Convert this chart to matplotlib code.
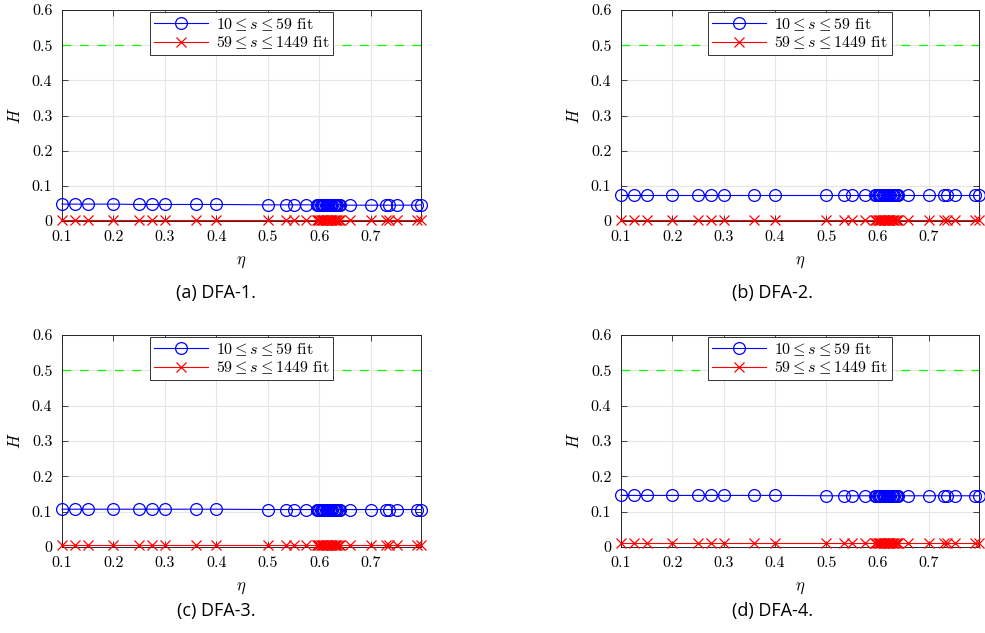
import matplotlib
matplotlib.use("Agg")
import matplotlib.pyplot as plt

plt.rcParams["font.family"] = "serif"
plt.rcParams["font.serif"] = ["cmr10", "DejaVu Serif"]
plt.rcParams["mathtext.fontset"] = "cm"
plt.rcParams["axes.unicode_minus"] = False

# ── data ──────────────────────────────────────────────────────────────────────
eta = [0.1, 0.125, 0.15, 0.2, 0.25, 0.275, 0.3, 0.36, 0.4,
       0.5, 0.535, 0.55, 0.575,
       0.595, 0.5975, 0.6, 0.6025, 0.605, 0.6075, 0.61, 0.6125, 0.615, 0.6175,
       0.62, 0.6225, 0.625, 0.6275, 0.63, 0.6325, 0.635, 0.6375, 0.64,
       0.66, 0.7, 0.73, 0.735, 0.75, 0.79, 0.7975]

# short-scale fit (10 <= s <= 59)
h_small = {
    "DFA-1": [0.048, 0.048, 0.048, 0.048, 0.047, 0.047, 0.047, 0.047, 0.047,
              0.046, 0.046, 0.046, 0.046,
              0.046, 0.046, 0.046, 0.046, 0.046, 0.046, 0.046, 0.046, 0.046, 0.046,
              0.046, 0.046, 0.046, 0.046, 0.046, 0.046, 0.046, 0.046, 0.046,
              0.045, 0.045, 0.045, 0.045, 0.045, 0.045, 0.046],
    "DFA-2": [0.074, 0.074, 0.074, 0.074, 0.074, 0.074, 0.074, 0.074, 0.074,
              0.074, 0.074, 0.074, 0.074,
              0.074, 0.074, 0.074, 0.074, 0.074, 0.074, 0.074, 0.074, 0.074, 0.074,
              0.074, 0.074, 0.074, 0.074, 0.074, 0.074, 0.074, 0.074, 0.074,
              0.074, 0.074, 0.074, 0.074, 0.074, 0.074, 0.074],
    "DFA-3": [0.107, 0.107, 0.107, 0.107, 0.107, 0.107, 0.107, 0.107, 0.107,
              0.106, 0.106, 0.106, 0.106,
              0.106, 0.106, 0.106, 0.106, 0.106, 0.106, 0.106, 0.106, 0.106, 0.106,
              0.106, 0.106, 0.106, 0.106, 0.106, 0.106, 0.106, 0.106, 0.106,
              0.106, 0.106, 0.106, 0.106, 0.106, 0.106, 0.106],
    "DFA-4": [0.146, 0.146, 0.146, 0.146, 0.146, 0.146, 0.146, 0.146, 0.146,
              0.145, 0.145, 0.145, 0.145,
              0.145, 0.145, 0.145, 0.145, 0.145, 0.145, 0.145, 0.145, 0.145, 0.145,
              0.145, 0.145, 0.145, 0.145, 0.145, 0.145, 0.145, 0.145, 0.145,
              0.145, 0.145, 0.145, 0.145, 0.145, 0.145, 0.145],
}

# long-scale fit (59 <= s <= 1449)
h_large = {
    "DFA-1": [0.002, 0.002, 0.002, 0.002, 0.002, 0.002, 0.002, 0.002, 0.002,
              0.002, 0.002, 0.002, 0.002,
              0.002, 0.002, 0.002, 0.002, 0.002, 0.002, 0.002, 0.002, 0.002, 0.002,
              0.002, 0.002, 0.002, 0.002, 0.002, 0.002, 0.002, 0.002, 0.002,
              0.002, 0.002, 0.002, 0.002, 0.002, 0.002, 0.002],
    "DFA-2": [0.003, 0.003, 0.003, 0.003, 0.003, 0.003, 0.003, 0.003, 0.003,
              0.003, 0.003, 0.003, 0.003,
              0.003, 0.003, 0.003, 0.003, 0.003, 0.003, 0.003, 0.003, 0.003, 0.003,
              0.003, 0.003, 0.003, 0.003, 0.003, 0.003, 0.003, 0.003, 0.003,
              0.003, 0.003, 0.003, 0.003, 0.003, 0.003, 0.003],
    "DFA-3": [0.007, 0.007, 0.007, 0.007, 0.007, 0.007, 0.007, 0.007, 0.007,
              0.007, 0.007, 0.007, 0.007,
              0.007, 0.007, 0.007, 0.007, 0.007, 0.007, 0.007, 0.007, 0.007, 0.007,
              0.007, 0.007, 0.007, 0.007, 0.007, 0.007, 0.007, 0.007, 0.007,
              0.007, 0.007, 0.007, 0.007, 0.007, 0.007, 0.007],
    "DFA-4": [0.011, 0.011, 0.011, 0.011, 0.011, 0.011, 0.011, 0.011, 0.011,
              0.011, 0.011, 0.011, 0.011,
              0.011, 0.011, 0.011, 0.011, 0.011, 0.011, 0.011, 0.011, 0.011, 0.011,
              0.011, 0.011, 0.011, 0.011, 0.011, 0.011, 0.011, 0.011, 0.011,
              0.011, 0.011, 0.011, 0.011, 0.011, 0.011, 0.011],
}

h_ref = 0.5
panels = ["DFA-1", "DFA-2", "DFA-3", "DFA-4"]
letters = ["a", "b", "c", "d"]
xticks = [0.1, 0.2, 0.3, 0.4, 0.5, 0.6, 0.7]
xticklabels = ["0.1", "0.2", "0.3", "0.4", "0.5", "0.6", "0.7"]
yticks = [0, 0.1, 0.2, 0.3, 0.4, 0.5, 0.6]
yticklabels = ["0", "0.1", "0.2", "0.3", "0.4", "0.5", "0.6"]
label_small = r"$10 \leq s \leq 59$ fit"
label_large = r"$59 \leq s \leq 1449$ fit"

# ── layout (pixels -> figure fractions) ───────────────────────────────────────
W, H = 985, 633
AX_POS = [
    (62, 10, 359, 211),
    (621, 10, 358, 211),
    (62, 335, 359, 212),
    (621, 335, 358, 212),
]
CAP_POS = [(216, 293), (773, 293), (216, 611), (773, 611)]

fig = plt.figure(figsize=(W / 100, H / 100), dpi=100)

for i, name in enumerate(panels):
    x0, y0, w, h = AX_POS[i]
    ax = fig.add_axes([x0 / W, 1 - (y0 + h) / H, w / W, h / H])

    ax.axhline(h_ref, color=(0, 1, 0), linestyle=(0, (7, 7)), linewidth=0.9, zorder=2)
    ax.plot(eta, h_small[name], color=(0, 0, 1), marker="o", markersize=8.5,
            markerfacecolor="none", markeredgewidth=0.9, linewidth=0.8,
            label=label_small, clip_on=False, zorder=4)
    ax.plot(eta, h_large[name], color=(1, 0, 0), marker="x", markersize=7,
            markeredgewidth=0.9, linewidth=0.8,
            label=label_large, clip_on=False, zorder=4)

    ax.set_xlim(min(eta), max(eta))
    ax.set_ylim(0, 0.6)
    ax.set_xticks(xticks)
    ax.set_xticklabels(xticklabels, fontsize=11.5)
    ax.set_yticks(yticks)
    ax.set_yticklabels(yticklabels, fontsize=11.5)
    ax.tick_params(direction="in", top=True, right=True, length=4,
                   width=0.6, color="0.15")
    ax.tick_params(axis="x", pad=7)
    ax.tick_params(axis="y", pad=7)
    for sp in ax.spines.values():
        sp.set_color("0.15")
        sp.set_linewidth(0.7)
    ax.grid(True, color="0.9", linewidth=0.8)
    ax.set_axisbelow(True)

    ax.set_xlabel(r"$\eta$", fontsize=12, labelpad=7)
    ax.set_ylabel(r"$H$", fontsize=12, labelpad=6)

    ax.legend(loc="upper center", bbox_to_anchor=(0.5, 1.0), borderaxespad=0.1,
              fontsize=11.5, handlelength=3.4, fancybox=False, framealpha=1,
              edgecolor="0.2", borderpad=0.25, labelspacing=0.1,
              handletextpad=0.5).get_frame().set_linewidth(0.7)

    cx, cy = CAP_POS[i]
    fig.text(cx / W, 1 - cy / H, f"({letters[i]}) {name}.", ha="center",
             va="center", fontsize=13, family="Open Sans")

fig.savefig("out.png", dpi=100)
